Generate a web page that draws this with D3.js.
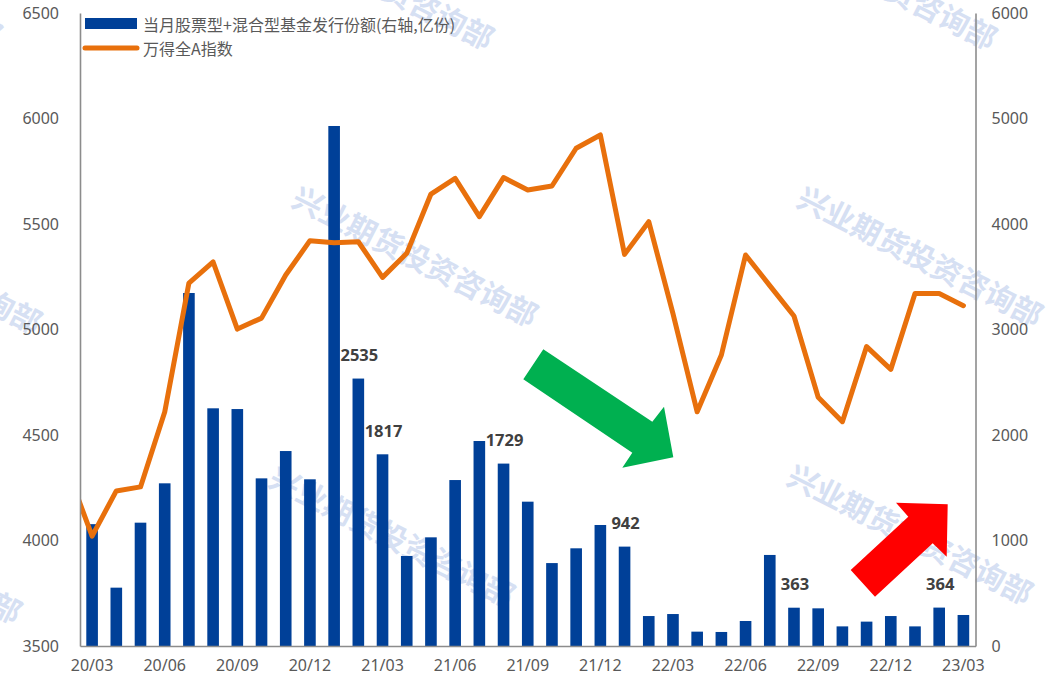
<!DOCTYPE html>
<html><head><meta charset="utf-8">
<script src="https://cdn.jsdelivr.net/npm/d3@7"></script>
<style>
html,body{margin:0;padding:0;background:#fff;}
svg{display:block;}
</style></head>
<body>
<svg id="c" width="1051" height="678"></svg>
<script>
// ---- data ----
const months = ["20/03","20/04","20/05","20/06","20/07","20/08","20/09","20/10","20/11","20/12",
  "21/01","21/02","21/03","21/04","21/05","21/06","21/07","21/08","21/09","21/10","21/11","21/12",
  "22/01","22/02","22/03","22/04","22/05","22/06","22/07","22/08","22/09","22/10","22/11","22/12",
  "23/01","23/02","23/03"];
const issuance = [1155,553,1169,1542,3346,2253,2246,1589,1848,1580,
  4929,2535,1817,853,1030,1573,1943,1729,1368,786,926,1147,
  942,284,303,136,133,237,863,363,357,186,231,284,
  186,364,294];
const windA = [4021,4235,4254,4609,5220,5320,5002,5054,5258,5421,
  5411,5416,5247,5361,5642,5716,5535,5720,5661,5680,5859,5922,
  5356,5511,5075,4610,4879,5353,5208,5064,4679,4563,4919,4811,
  5171,5171,5113];
const windAPrev = 4330; // 20/02, clipped at the left edge
const labeledMonths = ["21/02","21/03","21/08","22/01","22/08","23/02"];
const xTickLabels = ["20/03","20/06","20/09","20/12","21/03","21/06","21/09","21/12","22/03","22/06","22/09","22/12","23/03"];
const leftTicks = [3500,4000,4500,5000,5500,6000,6500];
const rightTicks = [0,1000,2000,3000,4000,5000,6000];
const legendNames = ["当月股票型+混合型基金发行份额(右轴,亿份)","万得全A指数"];
const watermarkText = "兴业期货投资咨询部";

// ---- layout ----
const L = 80, R = 975.5, T = 13, B = 646;
const svg = d3.select("#c");
const blue = "#004098", orange = "#e8700c", axisCol = "#8c8c8c", txtCol = "#595959";
const cjk = "'Noto Sans CJK SC','Noto Sans',sans-serif";
const num = "'Noto Sans','Open Sans',sans-serif";

const x = d3.scaleBand().domain(months).range([L, R]).paddingInner(0.52).paddingOuter(0.26);
const yL = d3.scaleLinear().domain([3500, 6500]).range([B, T]);
const yR = d3.scaleLinear().domain([0, 6000]).range([B, T]);
const cx = m => x(m) + x.bandwidth() / 2;

// ---- watermarks (bottom layer) ----
const wm = [[416,255],[393,535],[921,255],[911,533],[875,-22],[372,-22],[-80,262],[-100,552],[-120,-25]];
svg.append("g").selectAll("text").data(wm).join("text")
  .attr("transform", d => `translate(${d[0]},${d[1]}) rotate(27)`)
  .attr("text-anchor", "middle").attr("dominant-baseline", "central")
  .attr("font-family", cjk).attr("font-weight", 700).attr("font-size", 30)
  .attr("fill", "#d6e0f3").text(watermarkText);

// ---- bars ----
svg.append("g").selectAll("rect").data(months).join("rect")
  .attr("x", m => x(m)).attr("width", x.bandwidth())
  .attr("y", (m, i) => yR(issuance[i])).attr("height", (m, i) => B - yR(issuance[i]))
  .attr("fill", blue);

// ---- bar labels ----
svg.append("g").selectAll("text").data(labeledMonths).join("text")
  .attr("x", m => cx(m) + 1)
  .attr("y", m => yR(issuance[months.indexOf(m)]) - 24)
  .attr("text-anchor", "middle").attr("dominant-baseline", "central")
  .attr("font-family", num).attr("font-weight", 700).attr("font-size", 16.5)
  .attr("fill", "#404040")
  .text(m => issuance[months.indexOf(m)]);

// ---- line ----
svg.append("clipPath").attr("id", "clip").append("rect")
  .attr("x", L).attr("y", 0).attr("width", R - L).attr("height", 678);
const pts = [[cx(months[0]) - x.step(), yL(windAPrev)]].concat(months.map((m, i) => [cx(m), yL(windA[i])]));
svg.append("path").attr("clip-path", "url(#clip)")
  .attr("d", d3.line()(pts))
  .attr("fill", "none").attr("stroke", orange).attr("stroke-width", 5)
  .attr("stroke-linejoin", "round").attr("stroke-linecap", "round");

// ---- axes ----
const gL = svg.append("g").attr("transform", `translate(${L},0)`)
  .call(d3.axisLeft(yL).tickValues(leftTicks).tickSize(0).tickPadding(21).tickFormat(d3.format("d")));
const gR = svg.append("g").attr("transform", `translate(${R},0)`)
  .call(d3.axisRight(yR).tickValues(rightTicks).tickSize(0).tickPadding(16).tickFormat(d3.format("d")));
const gB = svg.append("g").attr("transform", `translate(0,${B})`)
  .call(d3.axisBottom(x).tickValues(xTickLabels).tickSize(0).tickPadding(14));
[gL, gR, gB].forEach(g => {
  g.select(".domain").attr("stroke", axisCol).attr("stroke-width", 1.6);
  g.selectAll("text").attr("font-family", num).attr("font-size", 16).attr("fill", txtCol);
});
gB.selectAll("text").attr("dy", "0.71em");

// ---- arrows ----
const green = [[543.3,349.3],[652.3,421.7],[664,406.7],[673.3,457.3],[622.3,467.7],[632.3,452.7],[523.3,379.3]];
const red = [[850.7,570],[908.3,516.7],[896,502.7],[947.7,504.3],[946.7,556.7],[932.7,543.3],[875,596.7]];
svg.append("polygon").attr("points", green.join(" ")).attr("fill", "#00b050");
svg.append("polygon").attr("points", red.join(" ")).attr("fill", "#ff0000");

// ---- legend ----
const lg = svg.append("g");
lg.append("rect").attr("x", 85).attr("y", 18).attr("width", 52).attr("height", 11).attr("fill", blue);
lg.append("line").attr("x1", 85).attr("x2", 137).attr("y1", 48).attr("y2", 48)
  .attr("stroke", orange).attr("stroke-width", 5).attr("stroke-linecap", "round");
lg.selectAll("text").data(legendNames).join("text")
  .attr("x", 143).attr("y", (d, i) => 23.5 + i * 24.5)
  .attr("dominant-baseline", "central")
  .attr("font-family", cjk).attr("font-size", 16).attr("fill", txtCol)
  .text(d => d);
</script>
</body></html>
